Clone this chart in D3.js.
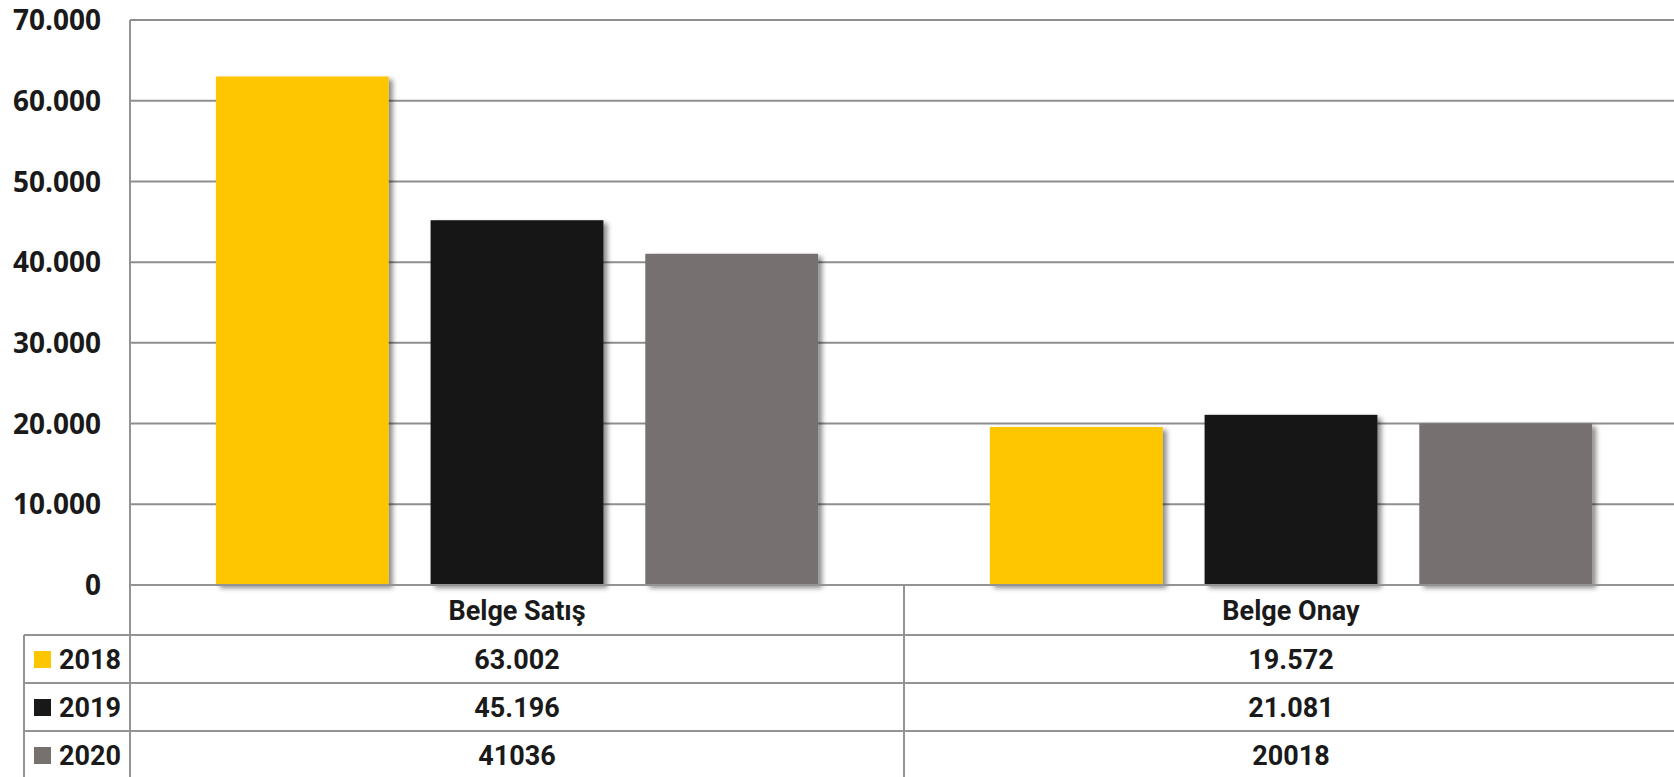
<!DOCTYPE html>
<html>
<head>
<meta charset="utf-8">
<script src="https://cdn.jsdelivr.net/npm/d3@7"></script>
<style>
    body { margin: 0; background: #fff; }
    .tick-label { font-family: "Open Sans", sans-serif; font-weight: 700; font-size: 28px; fill: #1a1a1a; }
    .table-text { font-family: Roboto, "Noto Sans", sans-serif; font-weight: 700; font-size: 27px; fill: #1a1a1a; }
</style>
</head>
<body>
<div id="chart"></div>
<script>
'use strict';

// data
var categories = ["Belge Satış", "Belge Onay"];
var years = ["2018", "2019", "2020"];
var values2018 = [63002, 19572];
var values2019 = [45196, 21081];
var values2020 = [41036, 20018];
// the table shows the numbers as they were typed in the source
var tableLabels2018 = ["63.002", "19.572"];
var tableLabels2019 = ["45.196", "21.081"];
var tableLabels2020 = ["41036", "20018"];
var yTicks = [0, 10000, 20000, 30000, 40000, 50000, 60000, 70000];
var yTickLabels = ["0", "10.000", "20.000", "30.000", "40.000", "50.000", "60.000", "70.000"];
var colors = ["#fec600", "#191818", "#76716f"];

var series = [values2018, values2019, values2020];
var tableLabels = [tableLabels2018, tableLabels2019, tableLabels2020];

var W = 1674, H = 777;
// the plot runs a little past the right edge of the picture
var plotLeft = 130, plotRight = 1678, plotTop = 20, plotBottom = 585;
var tableLeft = 24, headerBottom = 635, rowH = 48;

var svg = d3.select("#chart").append("svg")
    .attr("width", W)
    .attr("height", H);

// soft shadow under the bars
var filter = svg.append("defs").append("filter")
    .attr("id", "shadow")
    .attr("x", "-10%").attr("y", "-10%")
    .attr("width", "130%").attr("height", "130%");
filter.append("feDropShadow")
    .attr("dx", 4).attr("dy", 3)
    .attr("stdDeviation", 2.5)
    .attr("flood-color", "#000")
    .attr("flood-opacity", 0.45);

var x0 = d3.scaleBand()
    .domain(categories)
    .range([plotLeft, plotRight])
    .padding(0);
var x1 = d3.scaleBand()
    .domain(years)
    .range([0, x0.bandwidth()])
    .paddingInner(0.195)
    .paddingOuter(0.40);
var y = d3.scaleLinear()
    .domain([0, 70000])
    .range([plotBottom, plotTop]);

// grid lines
svg.append("g").selectAll("line")
    .data(yTicks.slice(1))
    .enter().append("line")
    .attr("x1", plotLeft).attr("x2", plotRight)
    .attr("y1", function (d) { return y(d); })
    .attr("y2", function (d) { return y(d); })
    .attr("stroke", "#8e8e8e")
    .attr("stroke-width", 2);

// y tick labels
svg.append("g").selectAll("text")
    .data(yTicks)
    .enter().append("text")
    .attr("class", "tick-label")
    .attr("x", 101)
    .attr("y", function (d) { return y(d); })
    .attr("dy", "0.36em")
    .attr("text-anchor", "end")
    .text(function (d, i) { return yTickLabels[i]; });

// bars
var groups = svg.append("g").selectAll("g")
    .data(categories)
    .enter().append("g")
    .attr("transform", function (d) { return "translate(" + x0(d) + ",0)"; });

groups.selectAll("rect")
    .data(function (d, ci) {
        return years.map(function (yr, si) { return { year: yr, value: series[si][ci], color: colors[si] }; });
    })
    .enter().append("rect")
    .attr("x", function (d) { return x1(d.year); })
    .attr("width", x1.bandwidth())
    .attr("y", function (d) { return y(d.value); })
    .attr("height", function (d) { return plotBottom - y(d.value); })
    .attr("fill", function (d) { return d.color; })
    .attr("filter", "url(#shadow)");

// axis lines and data table grid
var lines = svg.append("g")
    .attr("stroke", "#939393")
    .attr("stroke-width", 2);
lines.append("line")
    .attr("x1", plotLeft).attr("x2", plotLeft)
    .attr("y1", plotTop).attr("y2", H);
lines.append("line")
    .attr("x1", plotLeft).attr("x2", plotRight)
    .attr("y1", plotBottom).attr("y2", plotBottom);
lines.append("line")
    .attr("x1", x0(categories[1])).attr("x2", x0(categories[1]))
    .attr("y1", plotBottom).attr("y2", H);
lines.append("line")
    .attr("x1", tableLeft).attr("x2", tableLeft)
    .attr("y1", headerBottom).attr("y2", H);
lines.selectAll(".row-line")
    .data(years)
    .enter().append("line")
    .attr("class", "row-line")
    .attr("x1", tableLeft).attr("x2", plotRight)
    .attr("y1", function (d, i) { return headerBottom + i * rowH; })
    .attr("y2", function (d, i) { return headerBottom + i * rowH; });

// category header
svg.append("g").selectAll("text")
    .data(categories)
    .enter().append("text")
    .attr("class", "table-text")
    .attr("x", function (d) { return x0(d) + x0.bandwidth() / 2; })
    .attr("y", (plotBottom + headerBottom) / 2)
    .attr("dy", "0.36em")
    .attr("text-anchor", "middle")
    .text(function (d) { return d; });

// legend column
var legend = svg.append("g").selectAll("g")
    .data(years)
    .enter().append("g")
    .attr("transform", function (d, i) { return "translate(0," + (headerBottom + i * rowH + rowH / 2) + ")"; });
legend.append("rect")
    .attr("x", 34).attr("y", -8)
    .attr("width", 17).attr("height", 17)
    .attr("fill", function (d, i) { return colors[i]; });
legend.append("text")
    .attr("class", "table-text")
    .attr("x", 59)
    .attr("dy", "0.36em")
    .text(function (d) { return d; });

// values in the table
years.forEach(function (yr, si) {
    svg.append("g").selectAll("text")
        .data(categories)
        .enter().append("text")
        .attr("class", "table-text")
        .attr("x", function (d) { return x0(d) + x0.bandwidth() / 2; })
        .attr("y", headerBottom + si * rowH + rowH / 2)
        .attr("dy", "0.36em")
        .attr("text-anchor", "middle")
        .text(function (d, ci) { return tableLabels[si][ci]; });
});
</script>
</body>
</html>
